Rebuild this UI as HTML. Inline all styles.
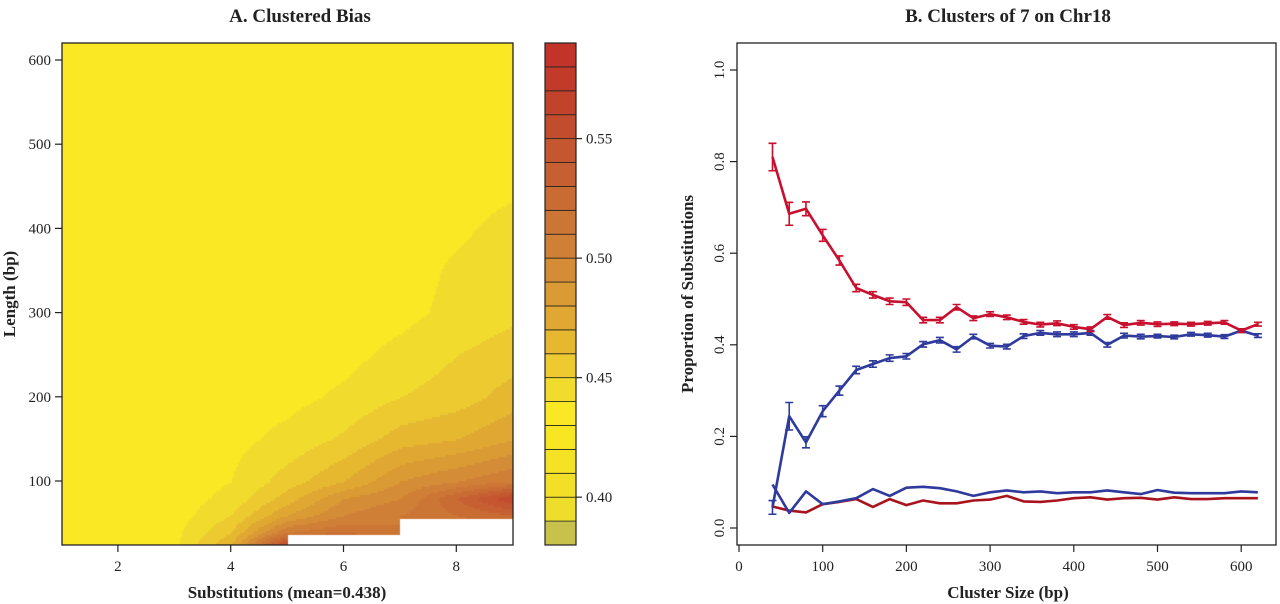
<!DOCTYPE html>
<html><head><meta charset="utf-8"><style>
html,body{margin:0;padding:0;background:#fff;}
#wrap{position:relative;width:1280px;height:604px;overflow:hidden;font-family:"Liberation Serif",serif;}
#heat{position:absolute;left:62px;top:43px;}
svg{position:absolute;left:0;top:0;}
text{font-family:"Liberation Serif",serif;fill:#222;}
</style></head><body>
<div id="wrap">
<canvas id="heat" width="451" height="502"></canvas>
<svg id="svg" width="1280" height="604"></svg>
</div>
<script>
// ---- Panel A data ----
const heatX = [1,2,3,4,5,6,7,8,9];
const heatY = [24,40,60,80,100,150,200,250,300,350,400,450,500,620];
const heatVals = [
 [.435,.435,.438,.47,.56,.54,.52,.52,.52],
 [.435,.435,.437,.46,.51,.52,.51,.51,.51],
 [.435,.435,.435,.45,.48,.50,.51,.52,.53],
 [.435,.435,.435,.443,.465,.49,.50,.53,.56],
 [.435,.435,.435,.44,.455,.47,.49,.50,.51],
 [.435,.435,.435,.437,.443,.452,.465,.47,.48],
 [.435,.435,.435,.435,.437,.442,.45,.455,.465],
 [.435,.435,.435,.435,.435,.437,.443,.45,.455],
 [.435,.435,.435,.435,.435,.435,.437,.443,.448],
 [.435,.435,.435,.435,.435,.435,.435,.442,.445],
 [.435,.435,.435,.435,.435,.435,.435,.438,.444],
 [.435,.435,.435,.435,.435,.435,.435,.435,.438],
 [.435,.435,.435,.435,.435,.435,.435,.435,.435],
 [.435,.435,.435,.435,.435,.435,.435,.435,.435]];
const maskRegions = [[5,9,0,38],[7,9,0,57]];
const levelMin = 0.38, levelStep = 0.01;
const levelColors = ['#c8c24c','#eedd2a','#f1e027','#f4e324','#f7e622','#f9e823','#f1dc2e','#ecca30','#e6b830','#e0a832','#da9a34','#d48c36','#d08036','#cc7636','#c96c34','#c66032','#c45630','#c24c2e','#c2432c','#c23a2a','#c2342a'];
const aXTicks = [2,4,6,8];
const aYTicks = [100,200,300,400,500,600];
const cbTicks = [0.40,0.45,0.50,0.55];
// ---- Panel B data ----
const sizes = [40,60,80,100,120,140,160,180,200,220,240,260,280,300,320,340,360,380,400,420,440,460,480,500,520,540,560,580,600,620];
const redUpper = [.81,.686,.697,.639,.584,.524,.509,.495,.493,.454,.454,.482,.458,.467,.46,.45,.444,.447,.439,.434,.461,.443,.448,.445,.446,.445,.447,.449,.431,.445];
const redUpperErr = [.03,.025,.015,.013,.01,.008,.007,.007,.007,.006,.006,.006,.005,.005,.005,.005,.005,.005,.005,.005,.005,.005,.005,.005,.004,.004,.004,.004,.004,.004];
const blueUpper = [.045,.244,.187,.255,.30,.345,.358,.371,.375,.401,.41,.39,.418,.398,.396,.419,.426,.423,.423,.426,.40,.42,.418,.419,.417,.423,.421,.418,.431,.42];
const blueUpperErr = [.015,.03,.012,.012,.01,.008,.007,.007,.006,.006,.006,.006,.005,.005,.005,.005,.005,.005,.005,.005,.005,.005,.005,.004,.004,.004,.004,.004,.004,.004];
const blueLower = [.095,.033,.08,.052,.058,.065,.085,.07,.088,.09,.087,.08,.07,.078,.082,.078,.08,.076,.078,.078,.082,.078,.074,.083,.077,.076,.076,.076,.08,.078];
const redLower = [.047,.038,.034,.052,.057,.063,.046,.063,.05,.06,.054,.054,.06,.062,.07,.058,.057,.06,.065,.067,.062,.065,.066,.062,.067,.063,.063,.065,.065,.065];
const bXTicks = [0,100,200,300,400,500,600];
const bYTicks = [0.0,0.2,0.4,0.6,0.8,1.0];

// ---- scales ----
const A = {l:62,r:513,t:43,b:545};
const ax = v => 61.5 + (v-1)*56.4;
const ay = v => 565.2 - v*0.842;
const cb = {l:545,r:576,t:43,b:545};
const cby = v => 545 - (v-0.38)*(502/0.21);
const B = {l:737,r:1276,t:43,b:545};
const bx = v => 739 + v*0.837;
const by = v => 528 - v*458;

// ---- heatmap canvas ----
const cv = document.getElementById('heat');
const ctx = cv.getContext('2d');
function interp(x,y){
  let i=0; while(i<heatX.length-2 && x>heatX[i+1]) i++;
  let j=0; while(j<heatY.length-2 && y>heatY[j+1]) j++;
  const tx=Math.max(0,Math.min(1,(x-heatX[i])/(heatX[i+1]-heatX[i])));
  const ty=Math.max(0,Math.min(1,(y-heatY[j])/(heatY[j+1]-heatY[j])));
  const v00=heatVals[j][i],v10=heatVals[j][i+1],v01=heatVals[j+1][i],v11=heatVals[j+1][i+1];
  return v00*(1-tx)*(1-ty)+v10*tx*(1-ty)+v01*(1-tx)*ty+v11*tx*ty;
}
const step=2;
for(let px=0;px<cv.width;px+=step){
  for(let py=0;py<cv.height;py+=step){
    const X=1+(px+A.l-61.5)/56.4, Y=(565.2-(py+A.t))/0.842;
    let masked=false;
    for(const m of maskRegions){ if(X>=m[0]&&X<=m[1]&&Y>=m[2]&&Y<=m[3]) masked=true; }
    if(masked){ctx.fillStyle='#ffffff';}
    else{
      const v=interp(X,Y);
      let k=Math.floor((v-levelMin)/levelStep+1e-6); k=Math.max(0,Math.min(levelColors.length-1,k));
      ctx.fillStyle=levelColors[k];
    }
    ctx.fillRect(px,py,step,step);
  }
}

// ---- SVG ----
const svg=document.getElementById('svg');
const NS='http://www.w3.org/2000/svg';
function mk(tag,attrs,parent){const e=document.createElementNS(NS,tag);for(const k in attrs)e.setAttribute(k,attrs[k]);(parent||svg).appendChild(e);return e;}
function txt(s,attrs,parent){const e=mk('text',attrs,parent);e.textContent=s;return e;}

let e;
e=mk('rect',{x:A.l,y:A.t,width:A.r-A.l,height:A.b-A.t,fill:'none',stroke:'#222','stroke-width':1.3});


e=txt('A. Clustered Bias',{x:300,y:22,'text-anchor':'middle','font-size':19,'font-weight':'bold'});


aXTicks.forEach(v=>{
  e=mk('line',{x1:ax(v),x2:ax(v),y1:A.b,y2:A.b+7,stroke:'#222','stroke-width':1.2});
  
  
  e=txt(String(v),{x:ax(v),y:A.b+26,'text-anchor':'middle','font-size':15});
  
  
});
aYTicks.forEach(v=>{
  e=mk('line',{x1:A.l-7,x2:A.l,y1:ay(v),y2:ay(v),stroke:'#222','stroke-width':1.2});
  
  
  e=txt(String(v),{x:A.l-11,y:ay(v)+5,'text-anchor':'end','font-size':15});
  
  
});
e=txt('Substitutions (mean=0.438)',{x:287,y:598,'text-anchor':'middle','font-size':17,'font-weight':'bold'});


e=txt('Length (bp)',{x:0,y:0,'text-anchor':'middle','font-size':17,'font-weight':'bold',transform:'translate(15,294) rotate(-90)'});


levelColors.forEach((c,k)=>{
  const v0=levelMin+k*levelStep, v1=v0+levelStep;
  e=mk('rect',{x:cb.l,y:cby(v1),width:cb.r-cb.l,height:cby(v0)-cby(v1),fill:c,stroke:'#222','stroke-width':0.8});
  
  
});
e=mk('rect',{x:cb.l,y:cb.t,width:cb.r-cb.l,height:cb.b-cb.t,fill:'none',stroke:'#222','stroke-width':1.2});


cbTicks.forEach(v=>{
  e=mk('line',{x1:cb.r,x2:cb.r+6,y1:cby(v),y2:cby(v),stroke:'#222','stroke-width':1.2});
  
  
  e=txt(v.toFixed(2),{x:cb.r+10,y:cby(v)+5,'font-size':15});
  
  
});

e=mk('rect',{x:B.l,y:B.t,width:B.r-B.l,height:B.b-B.t,fill:'none',stroke:'#222','stroke-width':1.3});


e=txt('B. Clusters of 7 on Chr18',{x:1008,y:22,'text-anchor':'middle','font-size':19,'font-weight':'bold'});


bXTicks.forEach(v=>{
  e=mk('line',{x1:bx(v),x2:bx(v),y1:B.b,y2:B.b+7,stroke:'#222','stroke-width':1.2});
  
  
  e=txt(String(v),{x:bx(v),y:B.b+26,'text-anchor':'middle','font-size':15});
  
  
});
bYTicks.forEach(v=>{
  e=mk('line',{x1:B.l-7,x2:B.l,y1:by(v),y2:by(v),stroke:'#222','stroke-width':1.2});
  
  
  e=txt(v.toFixed(1),{x:0,y:0,'text-anchor':'middle','font-size':15,transform:`translate(${B.l-13},${by(v)}) rotate(-90)`});
  
  
});
e=txt('Cluster Size (bp)',{x:1008,y:598,'text-anchor':'middle','font-size':17,'font-weight':'bold'});


e=txt('Proportion of Substitutions',{x:0,y:0,'text-anchor':'middle','font-size':17,'font-weight':'bold',transform:'translate(693,294) rotate(-90)'});



function series(vals,color,name,errs){
  const pts=sizes.map((s,i)=>bx(s).toFixed(1)+','+by(vals[i]).toFixed(1)).join(' ');
  e=mk('polyline',{points:pts,fill:'none',stroke:color,'stroke-width':2.6,'stroke-linejoin':'round'});
  
  
  if(errs){
    sizes.forEach((s,i)=>{
      const x=bx(s),y0=by(vals[i]-errs[i]),y1=by(vals[i]+errs[i]);
      e=mk('path',{d:`M${x},${y0}V${y1}M${x-4},${y0}H${x+4}M${x-4},${y1}H${x+4}`,stroke:color,'stroke-width':1.6,fill:'none'});
      
      
    });
  }
}
series(redLower,'#a8141e','red-lower-line');
series(blueLower,'#2e3a9c','blue-lower-line');
series(blueUpper,'#2e3a9c','blue-upper-line',blueUpperErr);
series(redUpper,'#c8102e','red-upper-line',redUpperErr);
</script>
</body></html>
